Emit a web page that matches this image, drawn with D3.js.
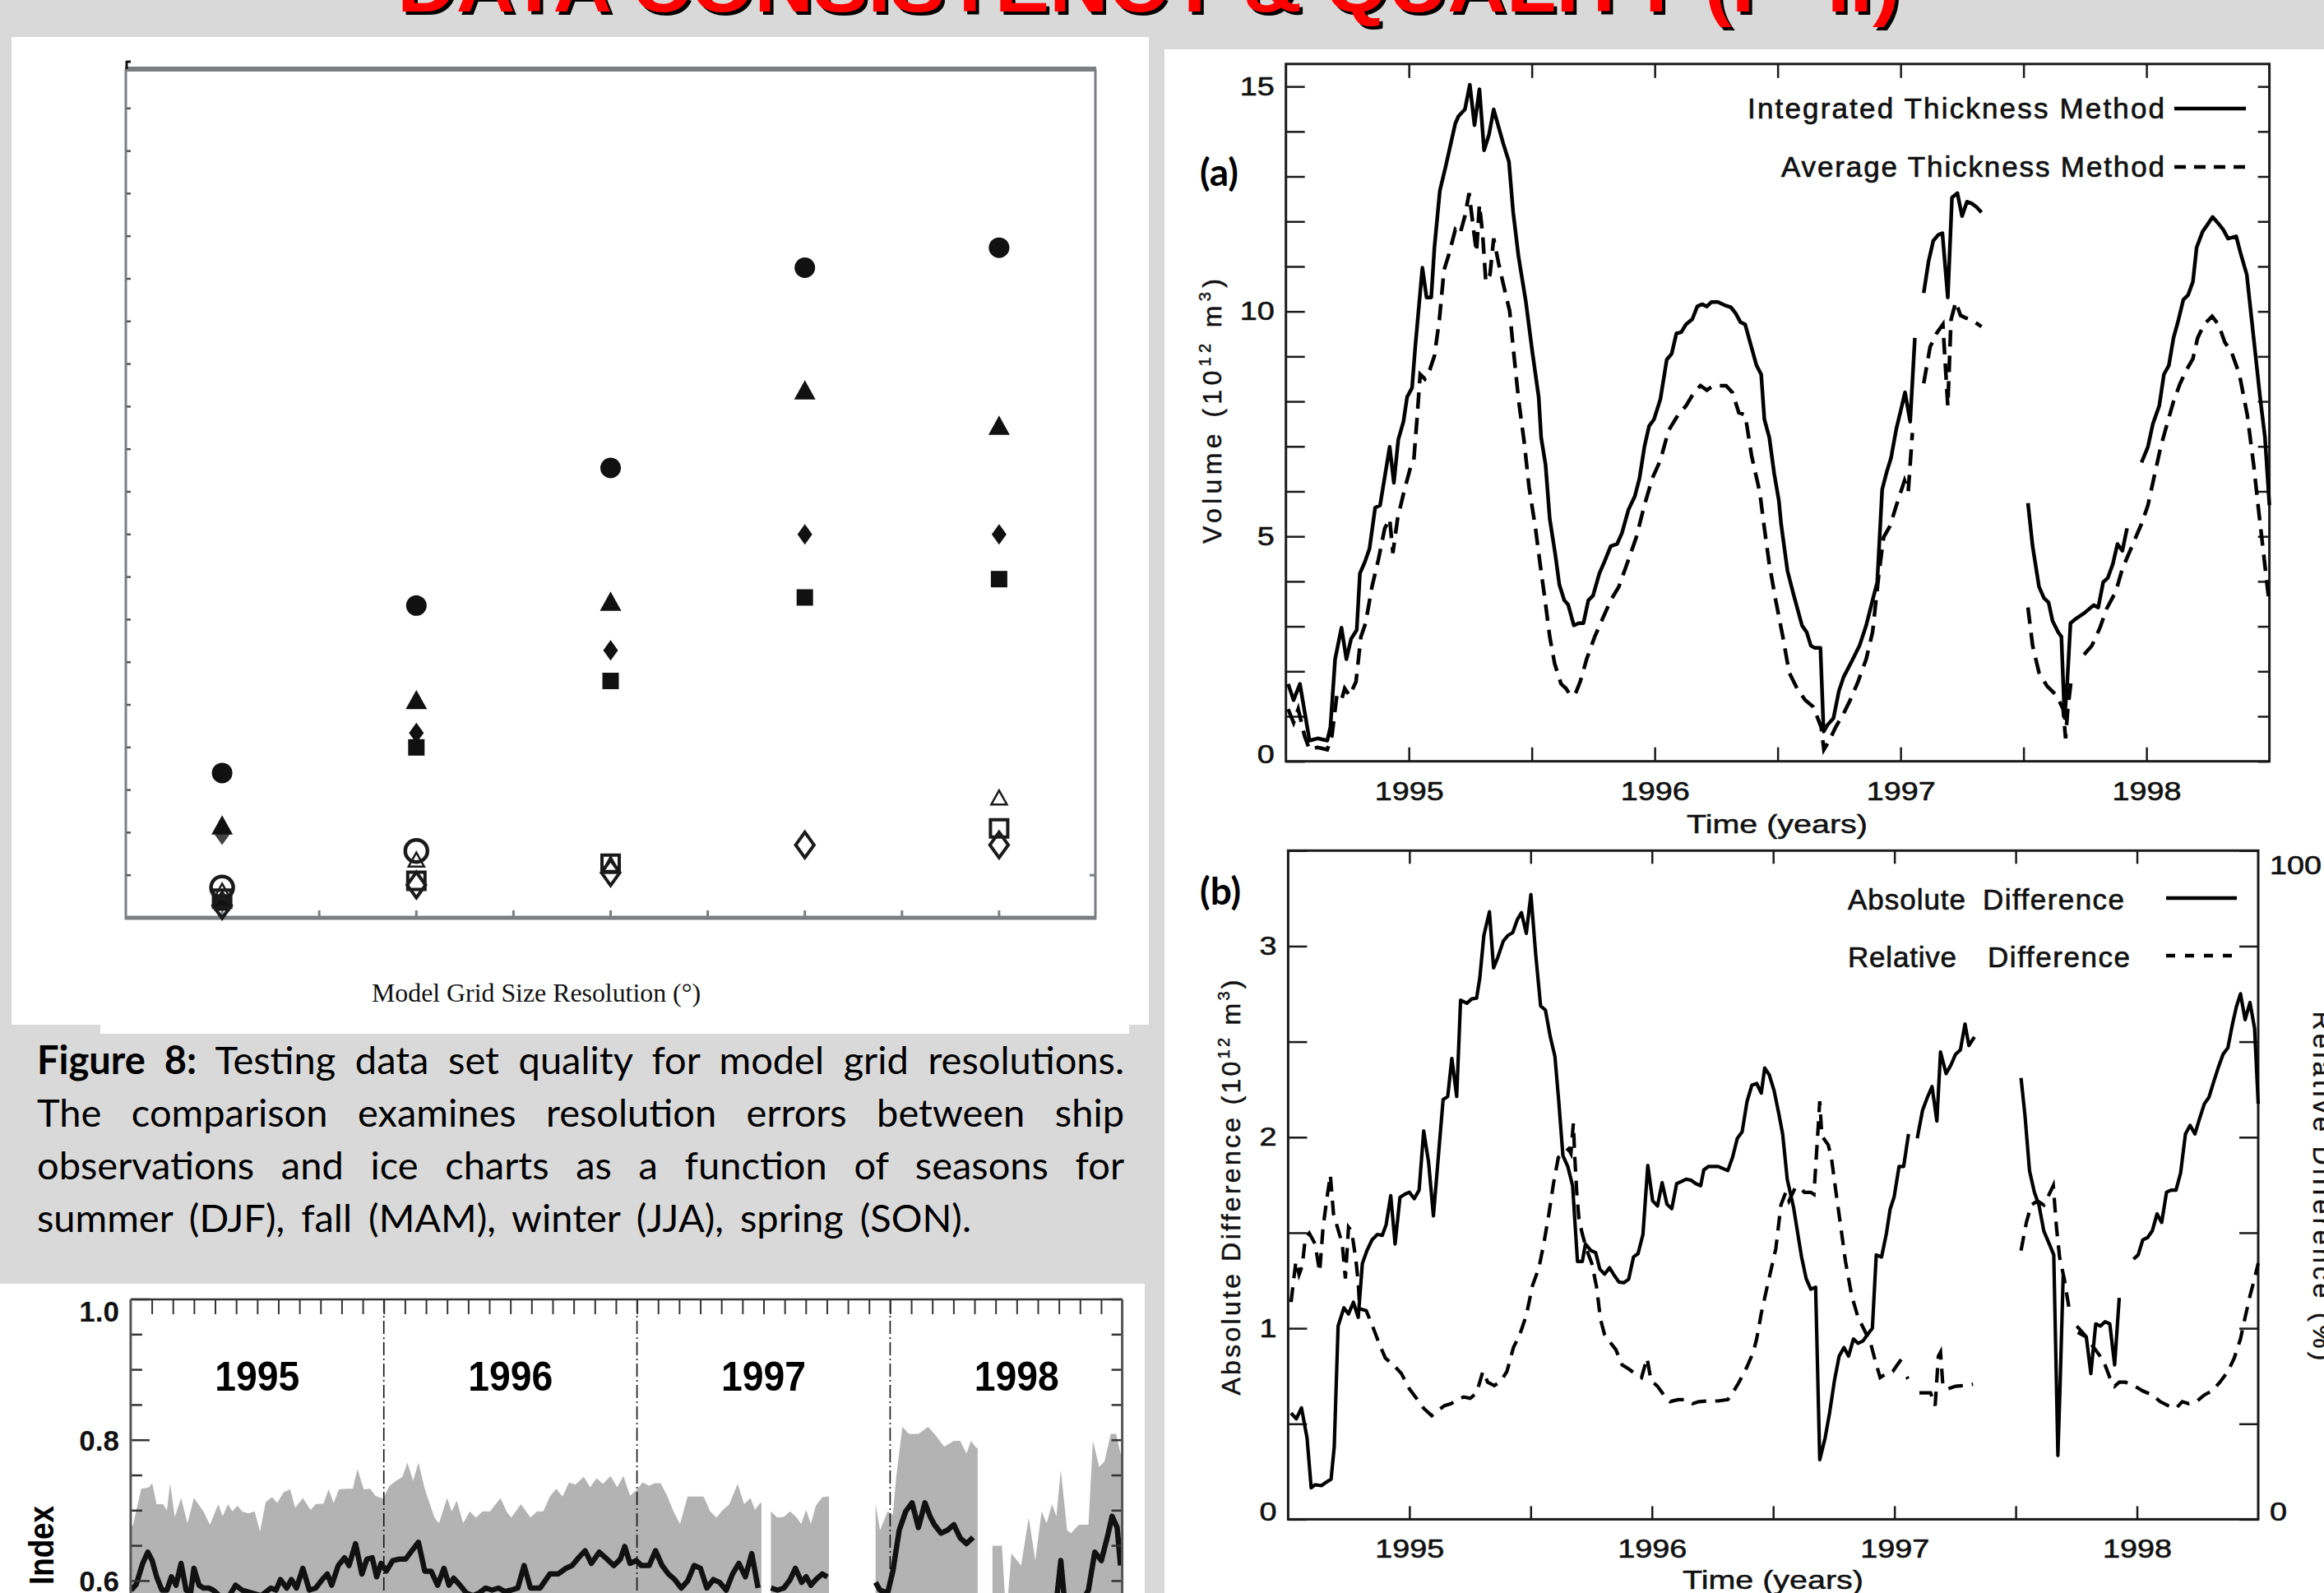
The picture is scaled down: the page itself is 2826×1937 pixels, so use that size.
<!DOCTYPE html>
<html><head><meta charset="utf-8">
<script src="https://cdn.jsdelivr.net/npm/d3@7/dist/d3.min.js"></script>
<style>html,body{margin:0;padding:0;background:#d9d9d9;} svg{display:block;}</style>
</head><body>
<svg id="chart" width="2826" height="1937" xmlns="http://www.w3.org/2000/svg"></svg>
<script>
// ================= DATA =================
const titleText = "DATA CONSISTENCY & QUALITY (I - II)";

// Figure 8 scatter: grid-resolution positions (axis units 0-10) and error values (axis units 0-20)
const gridPositions = [1, 3, 5, 7, 9];
const filledCircle   = [3.40, 7.33, 10.56, 15.26, 15.73];
const filledTriangle = [2.16, 5.10, 7.41, 12.37, 11.54];
const filledDiamond  = [1.95, 4.34, 6.28, 9.00, 9.00];
const filledSquare   = [0.36, 4.00, 5.56, 7.52, 7.95];
const openCircle     = [0.71, 1.57, null, null, null];
const openTriangle   = [0.62, 1.35, 1.25, null, 2.81];
const openSquare     = [0.45, 0.87, 1.27, null, 2.10];
const openDiamond    = [0.29, 0.77, 1.06, 1.71, 1.71];
const scatterXLabel = "Model Grid Size Resolution (\u00B0)";

const captionLines = [
  [{t:"Figure 8:", b:true}, {t:" Testing data set quality for model grid resolutions."}],
  [{t:"The comparison examines resolution errors between ship"}],
  [{t:"observations and ice charts as a function of seasons for"}],
  [{t:"summer (DJF), fall (MAM), winter (JJA), spring (SON)."}]
];

// Panel (a): ice volume (10^12 m^3) vs time (years); null = data gap
const volIntegrated = [[1994.509,1.72],[1994.531,1.36],[1994.557,1.72],[1994.596,0.46],[1994.629,0.51],[1994.668,0.46],[1994.681,0.76],[1994.700,2.27],[1994.726,2.97],[1994.746,2.27],[1994.765,2.72],[1994.788,2.92],[1994.801,4.18],[1994.821,4.43],[1994.840,4.73],[1994.863,5.64],[1994.883,5.69],[1994.922,6.99],[1994.939,6.19],[1994.957,7.15],[1994.978,7.55],[1994.993,8.10],[1995.013,8.30],[1995.026,9.21],[1995.055,10.97],[1995.072,10.31],[1995.091,10.31],[1995.104,11.42],[1995.126,12.68],[1995.150,13.23],[1995.189,14.18],[1995.202,14.34],[1995.228,14.49],[1995.248,15.04],[1995.267,14.14],[1995.287,14.94],[1995.306,13.58],[1995.326,13.93],[1995.345,14.49],[1995.384,13.73],[1995.407,13.33],[1995.424,12.22],[1995.446,11.22],[1995.476,10.21],[1995.502,9.11],[1995.528,8.10],[1995.538,7.20],[1995.556,6.59],[1995.573,5.39],[1995.596,4.58],[1995.612,3.93],[1995.632,3.58],[1995.648,3.48],[1995.671,3.02],[1995.691,3.07],[1995.710,3.07],[1995.730,3.58],[1995.749,3.68],[1995.775,4.18],[1995.795,4.43],[1995.821,4.78],[1995.847,4.83],[1995.867,5.08],[1995.893,5.59],[1995.919,5.89],[1995.938,6.29],[1995.958,6.99],[1995.977,7.45],[1995.997,7.60],[1996.023,8.05],[1996.049,8.93],[1996.069,9.06],[1996.088,9.51],[1996.108,9.54],[1996.127,9.71],[1996.153,9.83],[1996.173,10.11],[1996.192,10.16],[1996.212,10.11],[1996.231,10.21],[1996.257,10.21],[1996.284,10.14],[1996.310,10.09],[1996.329,9.96],[1996.349,9.76],[1996.368,9.71],[1996.388,9.31],[1996.414,8.80],[1996.433,8.60],[1996.446,7.60],[1996.466,7.20],[1996.486,6.39],[1996.505,5.79],[1996.514,5.28],[1996.540,4.23],[1996.566,3.68],[1996.599,3.02],[1996.618,2.87],[1996.635,2.57],[1996.651,2.52],[1996.674,2.52],[1996.687,0.66],[1996.703,0.81],[1996.727,0.96],[1996.749,1.56],[1996.768,1.87],[1996.801,2.22],[1996.833,2.57],[1996.860,3.02],[1996.886,3.58],[1996.905,3.98],[1996.925,6.04],[1996.944,6.44],[1996.961,6.74],[1996.983,7.40],[1997.003,7.85],[1997.018,8.20],[1997.039,7.55],[1997.058,9.41],[1997.075,null],[1997.094,10.41],[1997.114,11.12],[1997.133,11.57],[1997.153,11.70],[1997.170,11.74],[1997.192,10.31],[1997.209,12.53],[1997.231,12.63],[1997.250,12.12],[1997.270,12.44],[1997.289,12.40],[1997.309,12.32],[1997.329,12.20],[1997.420,null],[1997.518,5.74],[1997.537,4.78],[1997.563,3.88],[1997.583,3.63],[1997.602,3.53],[1997.618,3.12],[1997.641,2.87],[1997.654,2.77],[1997.667,0.96],[1997.678,1.77],[1997.691,3.07],[1997.713,3.17],[1997.746,3.29],[1997.785,3.47],[1997.804,3.42],[1997.824,3.98],[1997.843,4.08],[1997.863,4.38],[1997.882,4.83],[1997.902,4.68],[1997.921,5.18],[1997.950,null],[1997.980,6.64],[1998.006,6.99],[1998.026,7.50],[1998.052,7.90],[1998.071,8.60],[1998.091,8.80],[1998.110,9.41],[1998.130,9.81],[1998.150,10.26],[1998.169,10.36],[1998.189,10.66],[1998.204,11.42],[1998.228,11.77],[1998.247,11.92],[1998.269,12.10],[1998.290,11.97],[1998.312,11.82],[1998.332,11.62],[1998.365,11.67],[1998.384,11.27],[1998.408,10.82],[1998.436,9.41],[1998.462,8.10],[1998.482,7.20],[1998.500,5.69]];
const volAverage = [[1994.509,1.16],[1994.531,0.86],[1994.550,1.16],[1994.576,0.56],[1994.596,0.26],[1994.629,0.31],[1994.668,0.26],[1994.687,0.56],[1994.707,1.46],[1994.726,1.36],[1994.739,1.62],[1994.759,1.46],[1994.785,1.77],[1994.805,2.77],[1994.824,3.07],[1994.850,3.88],[1994.876,4.48],[1994.902,5.18],[1994.922,5.39],[1994.935,4.63],[1994.954,5.39],[1994.980,5.99],[1995.007,6.54],[1995.020,6.69],[1995.033,7.60],[1995.046,8.60],[1995.065,8.50],[1995.085,8.70],[1995.104,9.01],[1995.124,9.81],[1995.143,10.92],[1995.163,11.27],[1995.189,11.82],[1995.208,11.72],[1995.228,12.12],[1995.245,12.63],[1995.263,11.82],[1995.275,11.32],[1995.287,12.37],[1995.300,11.72],[1995.313,10.66],[1995.330,10.82],[1995.345,11.62],[1995.365,11.07],[1995.384,10.61],[1995.410,10.01],[1995.424,9.21],[1995.447,8.00],[1995.469,7.10],[1995.489,6.09],[1995.515,5.18],[1995.534,4.38],[1995.554,3.58],[1995.573,2.77],[1995.593,2.17],[1995.619,1.72],[1995.639,1.62],[1995.658,1.46],[1995.678,1.51],[1995.697,1.77],[1995.723,2.27],[1995.756,2.77],[1995.788,3.17],[1995.821,3.58],[1995.854,3.88],[1995.893,4.48],[1995.925,4.98],[1995.958,5.69],[1995.990,6.29],[1996.023,6.69],[1996.056,7.35],[1996.095,7.70],[1996.127,7.90],[1996.160,8.20],[1996.186,8.35],[1996.212,8.25],[1996.238,8.35],[1996.290,8.35],[1996.316,8.20],[1996.342,7.75],[1996.368,7.70],[1996.394,6.79],[1996.427,5.99],[1996.446,5.18],[1996.466,4.38],[1996.492,3.58],[1996.521,2.77],[1996.547,1.97],[1996.579,1.62],[1996.612,1.36],[1996.645,1.21],[1996.677,0.76],[1996.688,0.26],[1996.710,0.46],[1996.736,0.76],[1996.768,1.06],[1996.795,1.36],[1996.827,1.77],[1996.860,2.27],[1996.886,2.87],[1996.912,4.18],[1996.931,4.98],[1996.957,5.23],[1996.983,5.69],[1997.016,6.24],[1997.031,5.99],[1997.048,7.30],[1997.070,null],[1997.094,8.40],[1997.120,9.21],[1997.146,9.51],[1997.172,9.71],[1997.192,7.90],[1997.205,9.81],[1997.224,10.21],[1997.244,9.91],[1997.263,9.86],[1997.290,9.81],[1997.329,9.66],[1997.420,null],[1997.518,3.42],[1997.537,2.57],[1997.563,1.97],[1997.596,1.67],[1997.635,1.46],[1997.661,1.16],[1997.671,0.51],[1997.680,1.16],[1997.693,1.77],[1997.720,null],[1997.746,2.37],[1997.778,2.57],[1997.811,2.97],[1997.837,3.38],[1997.876,3.78],[1997.902,4.28],[1997.980,5.28],[1998.006,5.69],[1998.026,6.19],[1998.058,6.99],[1998.084,7.50],[1998.110,8.00],[1998.137,8.40],[1998.163,8.70],[1998.189,8.95],[1998.208,9.41],[1998.234,9.71],[1998.267,9.89],[1998.293,9.71],[1998.319,9.31],[1998.345,9.11],[1998.378,8.60],[1998.410,7.70],[1998.436,6.59],[1998.456,5.59],[1998.475,4.68],[1998.500,3.48]];

// Panel (b): absolute difference (10^12 m^3) and relative difference (%)
const absDiff = [[1994.512,0.556],[1994.534,0.526],[1994.555,0.583],[1994.578,0.425],[1994.595,0.165],[1994.611,0.181],[1994.637,0.176],[1994.657,0.194],[1994.677,0.210],[1994.690,0.379],[1994.706,1.012],[1994.730,1.107],[1994.749,1.075],[1994.769,1.136],[1994.789,1.057],[1994.806,1.339],[1994.825,1.407],[1994.846,1.463],[1994.868,1.491],[1994.888,1.486],[1994.904,1.542],[1994.923,1.694],[1994.941,1.441],[1994.961,1.685],[1994.980,1.701],[1995.000,1.712],[1995.020,1.678],[1995.040,1.723],[1995.059,2.033],[1995.079,1.870],[1995.099,1.588],[1995.119,1.893],[1995.139,2.197],[1995.158,2.213],[1995.175,2.412],[1995.195,2.213],[1995.211,2.717],[1995.237,2.701],[1995.257,2.724],[1995.277,2.728],[1995.290,2.830],[1995.307,3.056],[1995.330,3.180],[1995.347,2.886],[1995.365,2.943],[1995.387,3.026],[1995.406,3.056],[1995.426,3.071],[1995.445,3.139],[1995.462,3.175],[1995.482,3.067],[1995.501,3.270],[1995.521,2.954],[1995.541,2.687],[1995.561,2.665],[1995.581,2.525],[1995.600,2.423],[1995.616,2.186],[1995.633,1.904],[1995.653,1.847],[1995.673,1.746],[1995.693,1.350],[1995.713,1.350],[1995.726,1.441],[1995.748,1.407],[1995.768,1.396],[1995.785,1.310],[1995.805,1.283],[1995.825,1.317],[1995.844,1.278],[1995.864,1.242],[1995.884,1.238],[1995.904,1.256],[1995.924,1.373],[1995.943,1.391],[1995.963,1.491],[1995.983,1.852],[1996.003,1.667],[1996.023,1.640],[1996.042,1.762],[1996.062,1.649],[1996.082,1.626],[1996.102,1.757],[1996.122,1.768],[1996.141,1.780],[1996.161,1.775],[1996.181,1.757],[1996.201,1.746],[1996.214,1.829],[1996.234,1.847],[1996.273,1.847],[1996.293,1.836],[1996.313,1.825],[1996.333,1.897],[1996.352,1.994],[1996.372,2.028],[1996.392,2.186],[1996.412,2.272],[1996.432,2.281],[1996.451,2.231],[1996.465,2.362],[1996.484,2.326],[1996.504,2.243],[1996.524,2.118],[1996.539,2.017],[1996.558,1.780],[1996.584,1.633],[1996.617,1.373],[1996.636,1.260],[1996.655,1.204],[1996.675,1.215],[1996.692,0.312],[1996.714,0.425],[1996.733,0.560],[1996.753,0.729],[1996.772,0.854],[1996.792,0.899],[1996.811,0.854],[1996.831,0.944],[1996.850,0.921],[1996.870,0.933],[1996.889,0.967],[1996.909,1.000],[1996.925,1.384],[1996.947,1.373],[1996.967,1.497],[1996.982,1.622],[1996.999,1.689],[1997.019,1.847],[1997.038,1.847],[1997.058,2.017],[1997.075,null],[1997.094,1.994],[1997.116,2.141],[1997.136,2.209],[1997.155,2.265],[1997.175,2.084],[1997.190,2.446],[1997.213,2.333],[1997.233,2.378],[1997.252,2.434],[1997.272,2.457],[1997.291,2.593],[1997.307,2.480],[1997.330,2.525],[1997.420,null],[1997.522,2.310],[1997.538,2.118],[1997.557,1.825],[1997.577,1.712],[1997.596,1.644],[1997.616,1.509],[1997.635,1.452],[1997.657,1.384],[1997.674,0.334],[1997.684,0.741],[1997.696,1.283],[1997.720,null],[1997.756,0.978],[1997.791,0.955],[1997.810,0.763],[1997.830,1.023],[1997.849,1.012],[1997.869,1.034],[1997.888,1.023],[1997.908,0.808],[1997.927,1.159],[1997.950,null],[1997.986,1.362],[1998.005,1.384],[1998.024,1.463],[1998.044,1.475],[1998.063,1.509],[1998.083,1.599],[1998.102,1.554],[1998.122,1.712],[1998.141,1.723],[1998.161,1.723],[1998.180,1.813],[1998.200,2.017],[1998.219,2.062],[1998.239,2.017],[1998.258,2.096],[1998.278,2.175],[1998.297,2.209],[1998.316,2.288],[1998.336,2.367],[1998.355,2.434],[1998.375,2.468],[1998.394,2.593],[1998.410,2.683],[1998.427,2.751],[1998.446,2.615],[1998.466,2.705],[1998.485,2.570],[1998.500,2.175]];
const relDiff = [[1994.512,32.5],[1994.532,38.6],[1994.545,36.6],[1994.558,37.9],[1994.571,42.1],[1994.587,42.8],[1994.611,41.2],[1994.630,37.0],[1994.644,43.7],[1994.661,48.3],[1994.674,51.5],[1994.687,45.7],[1994.703,43.7],[1994.723,41.2],[1994.736,36.0],[1994.749,43.7],[1994.762,43.1],[1994.780,38.6],[1994.789,35.4],[1994.795,31.5],[1994.822,31.2],[1994.848,28.9],[1994.875,26.3],[1994.901,24.1],[1994.934,23.1],[1994.967,21.8],[1995.000,19.5],[1995.033,17.9],[1995.059,16.6],[1995.092,15.5],[1995.119,16.3],[1995.145,17.0],[1995.172,17.3],[1995.198,17.9],[1995.224,18.3],[1995.251,18.1],[1995.277,18.9],[1995.303,22.1],[1995.323,20.5],[1995.350,20.0],[1995.376,20.6],[1995.402,22.1],[1995.429,25.7],[1995.455,27.6],[1995.482,30.5],[1995.508,35.0],[1995.534,37.6],[1995.554,41.2],[1995.574,45.4],[1995.594,50.2],[1995.614,54.1],[1995.633,54.6],[1995.656,55.4],[1995.666,54.7],[1995.676,59.2],[1995.682,54.1],[1995.690,48.9],[1995.699,45.0],[1995.712,42.8],[1995.732,40.2],[1995.752,38.3],[1995.772,34.7],[1995.788,29.9],[1995.805,27.6],[1995.825,26.6],[1995.851,25.4],[1995.877,23.1],[1995.904,22.5],[1995.930,21.8],[1995.957,21.2],[1995.980,24.1],[1995.996,20.8],[1996.023,19.9],[1996.049,18.6],[1996.075,17.6],[1996.108,17.9],[1996.141,17.9],[1996.168,17.3],[1996.194,17.6],[1996.234,17.7],[1996.273,17.7],[1996.313,17.9],[1996.333,18.9],[1996.359,20.5],[1996.392,22.8],[1996.418,25.0],[1996.432,27.0],[1996.451,30.8],[1996.471,34.1],[1996.491,37.3],[1996.511,40.5],[1996.532,47.0],[1996.552,48.9],[1996.565,47.6],[1996.591,49.6],[1996.610,49.6],[1996.629,48.9],[1996.655,48.9],[1996.668,48.6],[1996.681,56.0],[1996.692,62.5],[1996.701,57.3],[1996.727,56.0],[1996.740,54.1],[1996.759,48.9],[1996.779,43.7],[1996.798,38.6],[1996.824,33.4],[1996.850,30.2],[1996.876,28.3],[1996.902,26.3],[1996.921,23.7],[1996.941,21.2],[1996.967,21.8],[1996.993,22.1],[1997.012,23.1],[1997.038,24.4],[1997.045,null],[1997.051,21.3],[1997.056,21.0],[1997.070,null],[1997.103,18.9],[1997.149,18.9],[1997.168,17.0],[1997.181,24.4],[1997.190,25.0],[1997.200,19.9],[1997.220,19.5],[1997.252,19.9],[1997.285,20.0],[1997.324,20.2],[1997.420,null],[1997.522,40.2],[1997.544,44.4],[1997.564,47.0],[1997.590,47.6],[1997.616,47.0],[1997.642,48.9],[1997.655,49.9],[1997.668,43.7],[1997.681,39.2],[1997.700,36.0],[1997.719,31.8],[1997.735,null],[1997.752,28.9],[1997.784,27.6],[1997.810,26.3],[1997.836,25.0],[1997.862,23.7],[1997.888,21.2],[1997.908,19.9],[1997.927,20.5],[1997.953,20.5],[1997.992,19.9],[1998.024,19.2],[1998.063,18.6],[1998.096,17.6],[1998.128,17.0],[1998.161,16.6],[1998.187,17.6],[1998.213,17.3],[1998.245,17.6],[1998.278,18.6],[1998.310,19.2],[1998.342,20.5],[1998.375,22.1],[1998.401,24.1],[1998.427,27.0],[1998.446,30.2],[1998.466,33.4],[1998.485,36.0],[1998.500,38.3]];

// Bottom-left index chart: month index (0 = Jan 1995), value
const indexYears = ["1995","1996","1997","1998"];
const indexEnvelope = [[0,0.679],[0.11,0.679],[0.50,0.731],[0.87,0.733],[1.02,0.739],[1.23,0.709],[1.54,0.709],[1.72,0.700],[1.87,0.739],[2.09,0.691],[2.39,0.718],[2.69,0.682],[3.00,0.718],[3.45,0.699],[3.76,0.680],[4.15,0.709],[4.36,0.692],[4.61,0.709],[4.82,0.699],[5.06,0.707],[5.28,0.699],[5.58,0.696],[5.88,0.699],[6.13,0.670],[6.40,0.712],[6.70,0.719],[6.95,0.711],[7.25,0.726],[7.56,0.730],[7.80,0.704],[8.16,0.718],[8.53,0.701],[8.77,0.709],[9.14,0.710],[9.38,0.730],[9.62,0.711],[9.87,0.730],[10.23,0.731],[10.53,0.731],[10.75,0.759],[11.05,0.730],[11.36,0.731],[11.60,0.721],[11.96,0.717],[12.27,0.735],[12.57,0.742],[12.88,0.748],[13.12,0.768],[13.39,0.742],[13.64,0.768],[13.94,0.731],[14.40,0.690],[14.61,0.682],[15.00,0.718],[15.22,0.699],[15.46,0.714],[15.76,0.682],[16.07,0.699],[16.37,0.690],[16.68,0.699],[17.04,0.699],[17.53,0.718],[17.83,0.698],[18.04,0.690],[18.50,0.709],[18.95,0.690],[19.26,0.699],[19.56,0.699],[19.87,0.720],[20.17,0.731],[20.47,0.720],[20.78,0.740],[21.08,0.737],[21.48,0.748],[21.78,0.733],[22.08,0.746],[22.39,0.738],[22.75,0.749],[23.06,0.733],[23.36,0.749],[23.67,0.721],[23.97,0.729],[24.27,0.740],[24.58,0.735],[24.82,0.739],[25.12,0.739],[25.43,0.721],[25.73,0.699],[26.04,0.681],[26.40,0.720],[26.86,0.720],[27.16,0.720],[27.47,0.699],[27.77,0.690],[28.07,0.701],[28.38,0.709],[28.77,0.738],[29.08,0.709],[29.38,0.718],[29.59,0.701],[29.84,0.711],[29.90,0.711],[30.1,null],[30.35,0.699],[30.65,0.690],[30.96,0.691],[31.26,0.699],[31.57,0.690],[31.78,0.681],[32.02,0.701],[32.24,0.681],[32.48,0.707],[32.78,0.719],[33.03,0.720],[33.10,0.720],[34.0,null],[35.31,0.709],[35.52,0.672],[35.88,0.699],[36.13,0.694],[36.28,0.746],[36.58,0.819],[36.89,0.809],[37.34,0.809],[37.80,0.819],[38.10,0.809],[38.56,0.791],[39.02,0.799],[39.32,0.799],[39.62,0.781],[39.83,0.799],[40.08,0.789],[40.15,0.789],[40.5,null],[40.85,0.650],[41.30,0.650],[41.50,0.548],[41.75,0.639],[42.21,0.622],[42.57,0.690],[42.88,0.629],[43.18,0.699],[43.42,0.682],[43.67,0.709],[43.88,0.692],[44.09,0.758],[44.39,0.672],[44.58,0.668],[44.94,0.680],[45.40,0.680],[45.61,0.799],[45.91,0.762],[46.16,0.770],[46.46,0.809],[46.71,0.809],[46.92,0.781],[47.0,0.780]];
const indexLine = [[0.02,0.587],[0.26,0.595],[0.57,0.625],[0.81,0.641],[1.02,0.629],[1.23,0.606],[1.48,0.587],[1.72,0.587],[1.93,0.606],[2.15,0.594],[2.39,0.625],[2.63,0.587],[2.84,0.583],[3.00,0.618],[3.24,0.594],[3.45,0.590],[3.70,0.590],[3.91,0.587],[4.21,0.579],[4.52,0.571],[4.97,0.594],[5.28,0.587],[5.73,0.583],[6.19,0.579],[6.64,0.590],[6.89,0.587],[7.10,0.602],[7.40,0.590],[7.62,0.602],[7.86,0.590],[8.16,0.618],[8.47,0.587],[8.77,0.590],[9.08,0.602],[9.32,0.610],[9.53,0.594],[9.84,0.622],[10.14,0.633],[10.35,0.622],[10.66,0.653],[10.96,0.610],[11.20,0.631],[11.45,0.633],[11.66,0.606],[11.87,0.625],[12.12,0.614],[12.42,0.629],[12.72,0.631],[13.03,0.631],[13.33,0.643],[13.64,0.655],[13.94,0.614],[14.24,0.614],[14.55,0.594],[14.85,0.618],[15.09,0.594],[15.31,0.604],[15.61,0.594],[15.91,0.583],[16.22,0.579],[16.52,0.583],[16.83,0.590],[17.13,0.587],[17.43,0.590],[17.74,0.585],[18.04,0.587],[18.35,0.590],[18.65,0.622],[18.95,0.590],[19.41,0.590],[19.87,0.610],[20.26,0.610],[20.63,0.618],[20.93,0.622],[21.23,0.633],[21.54,0.643],[21.84,0.625],[22.21,0.641],[22.51,0.633],[22.90,0.622],[23.21,0.631],[23.42,0.649],[23.67,0.625],[23.97,0.629],[24.21,0.622],[24.58,0.622],[24.88,0.643],[25.19,0.622],[25.49,0.610],[25.79,0.602],[26.10,0.590],[26.40,0.600],[26.71,0.622],[27.01,0.618],[27.31,0.590],[27.62,0.602],[27.92,0.598],[28.23,0.587],[28.53,0.610],[28.83,0.625],[29.14,0.606],[29.44,0.639],[29.74,0.590],[30.0,null],[30.35,0.590],[30.66,0.587],[30.96,0.590],[31.26,0.602],[31.51,0.618],[31.81,0.598],[32.02,0.606],[32.24,0.594],[32.48,0.602],[32.78,0.610],[33.03,0.606],[34.0,null],[35.31,0.598],[35.52,0.587],[35.88,0.583],[36.13,0.614],[36.43,0.672],[36.74,0.699],[37.04,0.711],[37.34,0.676],[37.65,0.711],[37.89,0.692],[38.10,0.680],[38.41,0.668],[38.71,0.672],[39.02,0.680],[39.32,0.661],[39.62,0.653],[39.93,0.662],[40.4,null],[41.0,0.560],[41.8,0.550],[42.6,0.560],[43.42,0.563],[43.88,0.571],[44.09,0.629],[44.27,0.571],[44.94,0.563],[45.40,0.587],[45.70,0.641],[46.01,0.629],[46.31,0.664],[46.52,0.692],[46.76,0.676],[46.92,0.622]];

// ================= DRAWING =================
const W = 2826, H = 1937;
const svg = d3.select('#chart');
const SANS = 'Liberation Sans, Arial, Helvetica, sans-serif';

svg.append('rect').attr('width', W).attr('height', H).attr('fill', '#d9d9d9');

// white panels
const panels = [
  {x: 14, y: 45, w: 1383, h: 1201},
  {x: 122, y: 1240, w: 1251, h: 17},
  {x: 0, y: 1561, w: 1392, h: 376},
  {x: 1416, y: 60, w: 1410, h: 1877}
];
svg.selectAll('rect.panel').data(panels).join('rect').attr('class', 'panel')
  .attr('x', d => d.x).attr('y', d => d.y).attr('width', d => d.w).attr('height', d => d.h).attr('fill', '#fff');

// title (cut off at top)
[[4, '#000'], [0, '#ff0000']].forEach(([off, col]) => {
  svg.append('text').attr('x', 483 + off).attr('y', 14 + off)
    .attr('font-family', SANS).attr('font-weight', 'bold').attr('font-size', 90)
    .attr('fill', col).attr('textLength', 1827).attr('lengthAdjust', 'spacingAndGlyphs')
    .text(titleText);
});

// ---------- Figure 8 scatter ----------
const sx = d3.scaleLinear().domain([0, 10]).range([152, 1333]);
const sy = d3.scaleLinear().domain([0, 20]).range([1116, 80]);
const frameGray = '#7b7e81';
const gS = svg.append('g');
gS.append('line').attr('x1', sx(0)).attr('x2', sx(10)).attr('y1', 84).attr('y2', 84).attr('stroke', frameGray).attr('stroke-width', 6);
gS.append('line').attr('x1', sx(0) + 1).attr('x2', sx(0) + 1).attr('y1', 84).attr('y2', sy(0) + 2).attr('stroke', frameGray).attr('stroke-width', 3);
gS.append('line').attr('x1', sx(10) - 1).attr('x2', sx(10) - 1).attr('y1', 84).attr('y2', sy(0) + 2).attr('stroke', frameGray).attr('stroke-width', 3);
gS.append('line').attr('x1', sx(0)).attr('x2', sx(10)).attr('y1', sy(0)).attr('y2', sy(0)).attr('stroke', frameGray).attr('stroke-width', 5);
gS.append('path').attr('d', `M${sx(0)+2},${sy(20)-6}V${sy(20)+4}M${sx(0)+2},${sy(20)-5}H${sx(0)+7}`).attr('stroke', '#111').attr('stroke-width', 3).attr('fill', 'none');
gS.selectAll('line.yt').data(d3.range(1, 20)).join('line').attr('class', 'yt')
  .attr('x1', sx(0) + 2).attr('x2', sx(0) + 7).attr('y1', d => sy(d)).attr('y2', d => sy(d)).attr('stroke', '#555').attr('stroke-width', 2.5);
gS.selectAll('line.xt').data(d3.range(1, 10)).join('line').attr('class', 'xt')
  .attr('x1', d => sx(d)).attr('x2', d => sx(d)).attr('y1', sy(0) - 2).attr('y2', sy(0) - 9).attr('stroke', frameGray).attr('stroke-width', 3);
gS.append('line').attr('x1', sx(10) - 2).attr('x2', sx(10) - 8).attr('y1', sy(1)).attr('y2', sy(1)).attr('stroke', frameGray).attr('stroke-width', 3);

const shapeTypes = {
  circle: {draw(ctx, s) { const r = s / 2; ctx.moveTo(r, 0); ctx.arc(0, 0, r, 0, 2 * Math.PI); }},
  triangle: {draw(ctx, s) { const h = s * 0.9; ctx.moveTo(0, -h * 0.55); ctx.lineTo(s / 2, h * 0.45); ctx.lineTo(-s / 2, h * 0.45); ctx.closePath(); }},
  diamond: {draw(ctx, s) { ctx.moveTo(0, -s / 2); ctx.lineTo(s * 0.36, 0); ctx.lineTo(0, s / 2); ctx.lineTo(-s * 0.36, 0); ctx.closePath(); }},
  square: {draw(ctx, s) { ctx.rect(-s / 2, -s / 2, s, s); }}
};
const scatterSeries = [
  {values: filledDiamond, shape: 'diamond', filled: true, size: 25, color: '#444'},
  {values: filledCircle, shape: 'circle', filled: true, size: 25},
  {values: filledTriangle, shape: 'triangle', filled: true, size: 26},
  {values: filledSquare, shape: 'square', filled: true, size: 20},
  {values: openCircle, shape: 'circle', filled: false, size: 27, sw: 4.5},
  {values: openTriangle, shape: 'triangle', filled: false, size: 19, sw: 2.5},
  {values: openSquare, shape: 'square', filled: false, size: 21, sw: 4},
  {values: openDiamond, shape: 'diamond', filled: false, size: 31, sw: 4}
];
scatterSeries.forEach(s => {
  const pts = gridPositions.map((g, i) => [g, s.values[i]]).filter(p => p[1] != null);
  gS.selectAll(null).data(pts).join('path')
    .attr('transform', d => `translate(${sx(d[0])},${sy(d[1])})`)
    .attr('d', d3.symbol().type(shapeTypes[s.shape]).size(s.size))
    .attr('fill', s.filled ? (d => (s.color && d[0] === 1 ? s.color : '#111')) : 'none')
    .attr('stroke', s.filled ? 'none' : '#1a1a1a')
    .attr('stroke-width', s.sw || 0);
});
gS.append('text').attr('x', 652).attr('y', 1218).attr('text-anchor', 'middle')
  .attr('font-family', 'Liberation Serif, Times New Roman, serif').attr('font-size', 32)
  .attr('textLength', 400).attr('lengthAdjust', 'spacingAndGlyphs').attr('fill', '#111').text(scatterXLabel);

// ---------- caption ----------
const captionWidths = [1322, 1322, 1322, 1136];
captionLines.forEach((ln, i) => {
  const t = svg.append('text').attr('x', 45).attr('y', 1306 + i * 64)
    .attr('font-family', 'Lato, Open Sans, sans-serif').attr('font-size', 47).attr('fill', '#000')
    .style('white-space', 'pre');
  ln.forEach(seg => t.append('tspan').attr('font-weight', seg.b ? 'bold' : 'normal').text(seg.t));
  const nat = t.node().getComputedTextLength();
  const nSp = ln.map(s => s.t).join('').split(' ').length - 1;
  const target = captionWidths[i];
  if (target > nat) t.style('word-spacing', ((target - nat) / nSp) + 'px');
  else t.attr('textLength', target).attr('lengthAdjust', 'spacingAndGlyphs');
});

// ---------- helpers for IDL-style panels ----------
function styleAxis(g, fontSize) {
  g.select('.domain').remove();
  g.selectAll('line').attr('stroke', '#1a1a1a').attr('stroke-width', 2.5);
  g.selectAll('text').attr('font-family', SANS).attr('font-size', fontSize).attr('fill', '#111')
    .attr('stroke', '#111').attr('stroke-width', 0.6)
    .each(function () {
      const s = this.textContent;
      if (s) d3.select(this).attr('textLength', s.length * 21).attr('lengthAdjust', 'spacingAndGlyphs');
    });
}
const halfYears = d3.range(1995, 1998.01, 0.5);
const yearFmt = d => Number.isInteger(d) ? String(d) : '';

function timePanel(x, y, yTicks, yLabelVals, tickLenTB, rightLen) {
  const g = svg.append('g');
  const [x0, x1] = x.range(), [y0, y1] = y.range();
  g.append('g').attr('transform', `translate(0,${y0})`)
    .call(d3.axisBottom(x).tickValues(halfYears).tickSize(-tickLenTB).tickPadding(25).tickFormat(yearFmt))
    .call(a => styleAxis(a, 31));
  g.append('g').attr('transform', `translate(0,${y1})`)
    .call(d3.axisTop(x).tickValues(halfYears).tickSize(-tickLenTB).tickFormat(''))
    .call(a => styleAxis(a, 31));
  g.append('g').attr('transform', `translate(${x0},0)`)
    .call(d3.axisLeft(y).tickValues(yTicks).tickSize(-23).tickPadding(14).tickFormat(d => yLabelVals.includes(d) ? String(d) : ''))
    .call(a => styleAxis(a, 31))
    .call(a => a.selectAll('text').filter(d => d === y.domain()[0]).attr('dy', '0.05em'));
  g.append('g').attr('transform', `translate(${x1},0)`)
    .call(d3.axisRight(y).tickValues(yTicks).tickSize(-rightLen).tickFormat(''))
    .call(a => styleAxis(a, 31));
  g.append('rect').attr('x', x0).attr('y', y1).attr('width', x1 - x0).attr('height', y0 - y1)
    .attr('fill', 'none').attr('stroke', '#1a1a1a').attr('stroke-width', 3);
  return g;
}
function rotatedLabel(g, tx, ty, angle, parts, len) {
  const t = g.append('text').attr('transform', `translate(${tx},${ty}) rotate(${angle})`).attr('text-anchor', 'middle')
    .attr('font-family', SANS).attr('font-size', 32).attr('fill', '#111').attr('stroke', '#111').attr('stroke-width', 0.5);
  parts.forEach(p => {
    const ts = t.append('tspan').text(p.t);
    if (p.sup) ts.attr('dy', -13).attr('font-size', 20);
    if (p.down) ts.attr('dy', 13);
  });
  t.attr('textLength', len).attr('lengthAdjust', 'spacing');
  return t;
}

// ---------- panel (a) ----------
const ax = d3.scaleLinear().domain([1994.5, 1998.5]).range([1563.7, 2759.6]);
const ay = d3.scaleLinear().domain([0, 15.5]).range([925.7, 77.8]);
const gA = timePanel(ax, ay, d3.range(0, 16), [0, 5, 10, 15], 17, 14);
const lineA = d3.line().defined(d => d[1] != null).x(d => ax(d[0])).y(d => ay(d[1]));
gA.append('path').datum(volIntegrated).attr('d', lineA).attr('fill', 'none').attr('stroke', '#000').attr('stroke-width', 4.5).attr('stroke-linejoin', 'round');
gA.append('path').datum(volAverage).attr('d', lineA).attr('fill', 'none').attr('stroke', '#000').attr('stroke-width', 4.5).attr('stroke-dasharray', '20,11');
gA.append('text').attr('x', 2161).attr('y', 1013).attr('text-anchor', 'middle').attr('font-family', SANS).attr('font-size', 32)
  .attr('stroke', '#111').attr('stroke-width', 0.5)
  .attr('textLength', 220).attr('lengthAdjust', 'spacingAndGlyphs').attr('fill', '#111').text('Time (years)');
rotatedLabel(gA, 1485, 500, -90, [{t: 'Volume  (10'}, {t: '12', sup: true}, {t: ' m', down: true}, {t: '3', sup: true}, {t: ')', down: true}], 322);
gA.append('text').attr('x', 1459).attr('y', 226).attr('font-family', 'Lato, Open Sans, sans-serif').attr('font-weight', 'bold')
  .attr('font-size', 46).attr('fill', '#000').text('(a)');
const legendA = [
  {label: 'Integrated Thickness Method', len: 507, y: 144, dash: null},
  {label: 'Average Thickness Method', len: 466, y: 215, dash: '14,10'}
];
legendA.forEach(l => {
  gA.append('text').attr('x', 2632).attr('y', l.y).attr('text-anchor', 'end').attr('font-family', SANS).attr('font-size', 35)
    .attr('fill', '#111').attr('stroke', '#111').attr('stroke-width', 0.7)
    .attr('textLength', l.len).attr('lengthAdjust', 'spacing').text(l.label);
  gA.append('line').attr('x1', 2644).attr('x2', 2731).attr('y1', l.y - 12).attr('y2', l.y - 12)
    .attr('stroke', '#000').attr('stroke-width', 4.5).attr('stroke-dasharray', l.dash);
});

// ---------- panel (b) ----------
const bx = d3.scaleLinear().domain([1994.5, 1998.5]).range([1566.4, 2746]);
const by = d3.scaleLinear().domain([0, 3.5]).range([1847.4, 1034.3]);
const byR = d3.scaleLinear().domain([0, 100]).range([1847.4, 1034.3]);
const gB = timePanel(bx, by, d3.range(0, 3.51, 0.5), [0, 1, 2, 3], 16, 23);
gB.append('g').attr('transform', `translate(${bx.range()[1]},0)`)
  .call(d3.axisRight(byR).tickValues([0, 100]).tickSize(0).tickPadding(14))
  .call(a => styleAxis(a, 31))
  .call(a => a.selectAll('text').attr('dy', d => d === 100 ? '0.9em' : '0.05em'));
const lineBa = d3.line().defined(d => d[1] != null).x(d => bx(d[0])).y(d => by(d[1]));
const lineBr = d3.line().defined(d => d[1] != null).x(d => bx(d[0])).y(d => byR(d[1]));
gB.append('path').datum(absDiff).attr('d', lineBa).attr('fill', 'none').attr('stroke', '#000').attr('stroke-width', 4.2).attr('stroke-linejoin', 'round');
gB.append('path').datum(relDiff).attr('d', lineBr).attr('fill', 'none').attr('stroke', '#000').attr('stroke-width', 4.2).attr('stroke-dasharray', '18,11');
gB.append('text').attr('x', 2156).attr('y', 1932).attr('text-anchor', 'middle').attr('font-family', SANS).attr('font-size', 32)
  .attr('stroke', '#111').attr('stroke-width', 0.5)
  .attr('textLength', 220).attr('lengthAdjust', 'spacingAndGlyphs').attr('fill', '#111').text('Time (years)');
rotatedLabel(gB, 1508, 1444, -90, [{t: 'Absolute  Difference  (10'}, {t: '12', sup: true}, {t: ' m', down: true}, {t: '3', sup: true}, {t: ')', down: true}], 505);
rotatedLabel(gB, 2813, 1442, 90, [{t: 'Relative  Difference  (%)'}], 425);
gB.append('text').attr('x', 1459).attr('y', 1100).attr('font-family', 'Lato, Open Sans, sans-serif').attr('font-weight', 'bold')
  .attr('font-size', 46).attr('fill', '#000').text('(b)');
const legendB = [
  {words: [['Absolute', 2247, 143], ['Difference', 2411, 172]], y: 1106, dash: null},
  {words: [['Relative', 2247, 132], ['Difference', 2417, 173]], y: 1176, dash: '11,12'}
];
legendB.forEach(l => {
  l.words.forEach(([w, x, len]) => gB.append('text').attr('x', x).attr('y', l.y).attr('font-family', SANS).attr('font-size', 35)
    .attr('fill', '#111').attr('stroke', '#111').attr('stroke-width', 0.7)
    .attr('textLength', len).attr('lengthAdjust', 'spacing').text(w));
  gB.append('line').attr('x1', 2634).attr('x2', 2720).attr('y1', l.y - 14).attr('y2', l.y - 14)
    .attr('stroke', '#000').attr('stroke-width', 4.5).attr('stroke-dasharray', l.dash);
});

// ---------- bottom-left index chart ----------
const ix = d3.scaleLinear().domain([0, 47]).range([158.9, 1364.6]);
const iy = d3.scaleLinear().domain([0.4, 1.0]).range([2093.6, 1580]);
const gI = svg.append('g');
gI.append('path').datum(indexEnvelope)
  .attr('d', d3.area().defined(d => d[1] != null).x(d => ix(d[0])).y0(iy(0.4)).y1(d => iy(d[1])))
  .attr('fill', '#b3b3b3');
gI.selectAll('line.yr').data([12, 24, 36]).join('line').attr('class', 'yr')
  .attr('x1', d => ix(d)).attr('x2', d => ix(d)).attr('y1', iy(1.0)).attr('y2', H)
  .attr('stroke', '#111').attr('stroke-width', 1.6).attr('stroke-dasharray', '16,4,2,4');
gI.append('path').datum(indexLine)
  .attr('d', d3.line().defined(d => d[1] != null).x(d => ix(d[0])).y(d => iy(d[1])))
  .attr('fill', 'none').attr('stroke', '#111').attr('stroke-width', 6.5).attr('stroke-linejoin', 'round');
gI.append('g').attr('transform', `translate(0,${iy(1.0)})`)
  .call(d3.axisTop(ix).tickValues(d3.range(1, 47)).tickSize(-18).tickFormat(''))
  .call(a => { a.select('.domain').remove(); a.selectAll('line').attr('stroke', '#333').attr('stroke-width', 2); });
const iTicks = d3.range(0.4, 1.001, 0.05).map(v => +v.toFixed(2));
gI.append('g').attr('transform', `translate(${ix(0)},0)`)
  .call(d3.axisLeft(iy).tickValues(iTicks).tickSize(0).tickPadding(14).tickFormat(d => [0.6, 0.8, 1.0].includes(d) ? d.toFixed(1) : ''))
  .call(a => {
    a.select('.domain').remove();
    a.selectAll('text').attr('font-family', SANS).attr('font-weight', 'bold').attr('font-size', 35).attr('fill', '#111')
      .attr('dy', d => d === 1.0 ? '0.75em' : '0.35em');
  });
gI.selectAll('line.il').data(iTicks).join('line').attr('class', 'il')
  .attr('x1', ix(0)).attr('x2', d => ix(0) + ([0.6, 0.8, 1.0].includes(d) ? 23 : 14))
  .attr('y1', d => iy(d)).attr('y2', d => iy(d)).attr('stroke', '#333').attr('stroke-width', 2.5);
gI.selectAll('line.ir').data(iTicks).join('line').attr('class', 'ir')
  .attr('x1', ix(47)).attr('x2', ix(47) - 13)
  .attr('y1', d => iy(d)).attr('y2', d => iy(d)).attr('stroke', '#333').attr('stroke-width', 2.5);
gI.append('line').attr('x1', ix(0)).attr('x2', ix(47)).attr('y1', iy(1.0)).attr('y2', iy(1.0)).attr('stroke', '#333').attr('stroke-width', 2.5);
gI.append('line').attr('x1', ix(0)).attr('x2', ix(0)).attr('y1', iy(1.0)).attr('y2', H).attr('stroke', '#555').attr('stroke-width', 3);
gI.append('line').attr('x1', ix(47)).attr('x2', ix(47)).attr('y1', iy(1.0)).attr('y2', H).attr('stroke', '#555').attr('stroke-width', 3);
gI.selectAll('text.yl').data(indexYears).join('text').attr('class', 'yl')
  .attr('x', (d, i) => ix(6 + 12 * i)).attr('y', 1691).attr('text-anchor', 'middle')
  .attr('font-family', SANS).attr('font-weight', 'bold').attr('font-size', 50).attr('fill', '#000')
  .attr('textLength', 103).attr('lengthAdjust', 'spacingAndGlyphs').text(d => d);
gI.append('text').attr('transform', 'translate(65,1879) rotate(-90)').attr('text-anchor', 'middle')
  .attr('font-family', SANS).attr('font-weight', 'bold').attr('font-size', 42).attr('fill', '#000')
  .attr('textLength', 96).attr('lengthAdjust', 'spacingAndGlyphs').text('Index');
</script>
</body></html>
